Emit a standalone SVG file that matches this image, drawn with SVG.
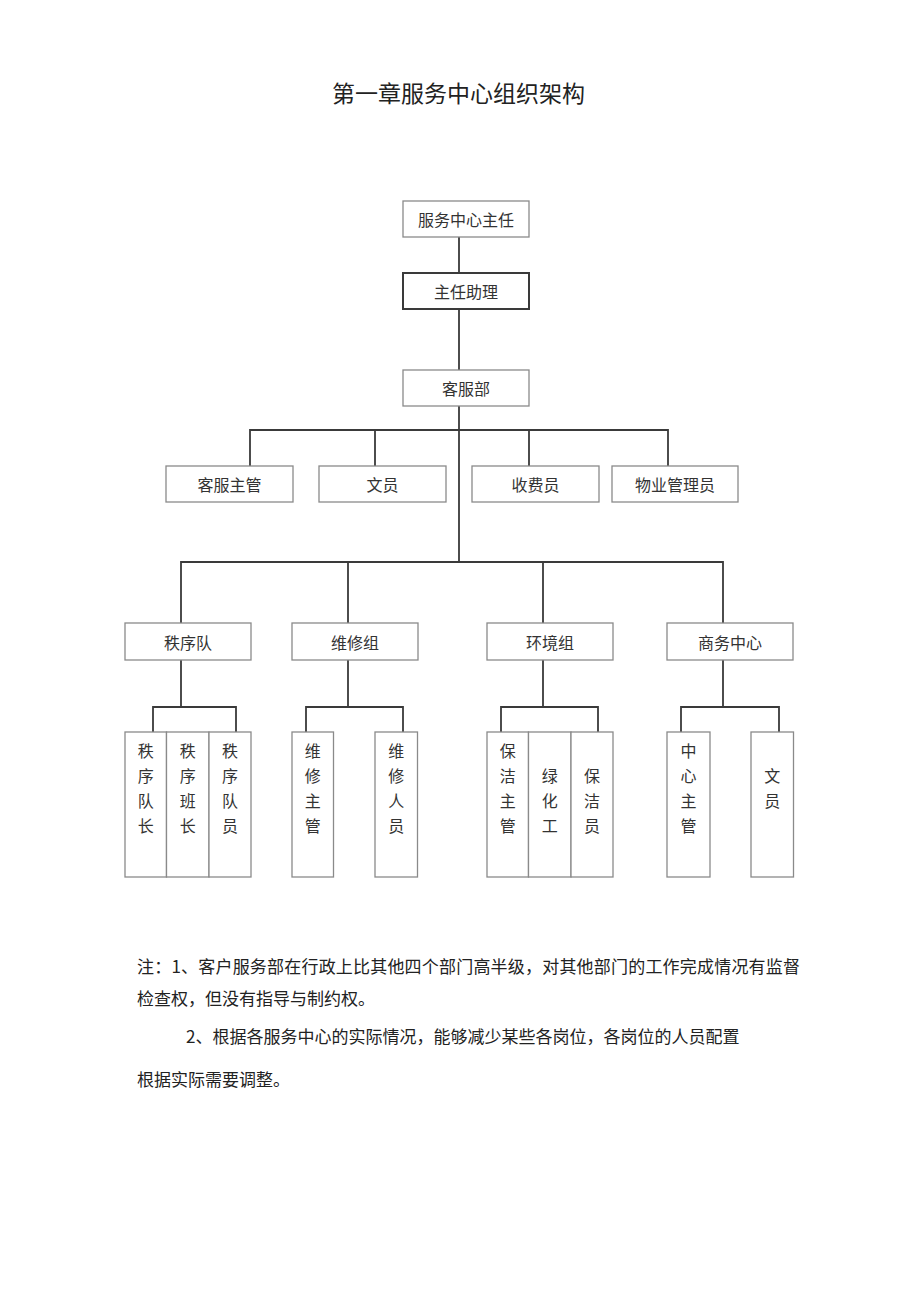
<svg xmlns="http://www.w3.org/2000/svg" width="920" height="1301" viewBox="0 0 920 1301">
<style>
text{font-family:"Noto Sans CJK SC","Liberation Sans",sans-serif;fill:#333;}
.t{font-size:16px;text-anchor:middle;dominant-baseline:central;}
.box{fill:#fff;stroke:#8a8a8a;stroke-width:1.3;}
.boxd{fill:#fff;stroke:#3a3a3a;stroke-width:2;}
.ln{stroke:#3a3a3a;stroke-width:1.8;fill:none;}
.note{font-size:17px;fill:#222;}
.title{font-size:23px;fill:#222;text-anchor:middle;dominant-baseline:central;}
</style>
<rect width="920" height="1301" fill="#fff"/>
<text class="title" x="458.5" y="92">第一章服务中心组织架构</text>

<g id="connectors">
<path class="ln" d="M459 237V273M459 309V370M459 406V562"/>
<path class="ln" d="M250 466V430H668V466M375 430V466M529 430V466"/>
<path class="ln" d="M181 623V562H723V623M348 562V623M543 562V623"/>
<path class="ln" d="M181 660V707M153 732V707H236V732"/>
<path class="ln" d="M348 660V707M306 732V707H403V732"/>
<path class="ln" d="M543 660V707M501 732V707H598V732"/>
<path class="ln" d="M723 660V707M681 732V707H779V732"/>
</g>

<g id="n-director"><rect class="box" x="403" y="201" width="126" height="36"/><text class="t" x="466" y="219">服务中心主任</text></g>
<g id="n-assistant"><rect class="boxd" x="403" y="273" width="126" height="36"/><text class="t" x="466" y="291">主任助理</text></g>
<g id="n-cs"><rect class="box" x="403" y="370" width="126" height="36"/><text class="t" x="466" y="388">客服部</text></g>

<g id="n-cs-super"><rect class="box" x="166" y="466" width="127" height="36"/><text class="t" x="229.5" y="484">客服主管</text></g>
<g id="n-clerk"><rect class="box" x="319" y="466" width="127" height="36"/><text class="t" x="382.5" y="484">文员</text></g>
<g id="n-cashier"><rect class="box" x="472" y="466" width="127" height="36"/><text class="t" x="535.5" y="484">收费员</text></g>
<g id="n-property"><rect class="box" x="612" y="466" width="126" height="36"/><text class="t" x="675" y="484">物业管理员</text></g>

<g id="n-security"><rect class="box" x="125" y="623" width="126" height="37"/><text class="t" x="188" y="641.5">秩序队</text></g>
<g id="n-maint"><rect class="box" x="292" y="623" width="126" height="37"/><text class="t" x="355" y="641.5">维修组</text></g>
<g id="n-env"><rect class="box" x="487" y="623" width="126" height="37"/><text class="t" x="550" y="641.5">环境组</text></g>
<g id="n-biz"><rect class="box" x="667" y="623" width="126" height="37"/><text class="t" x="730" y="641.5">商务中心</text></g>

<g id="n-sec-captain"><rect class="box" x="125" y="732" width="41.5" height="145"/>
<text class="t" x="145.7" y="750">秩</text><text class="t" x="145.7" y="775">序</text><text class="t" x="145.7" y="800">队</text><text class="t" x="145.7" y="825">长</text></g>
<g id="n-sec-leader"><rect class="box" x="166.5" y="732" width="42.5" height="145"/>
<text class="t" x="187.7" y="750">秩</text><text class="t" x="187.7" y="775">序</text><text class="t" x="187.7" y="800">班</text><text class="t" x="187.7" y="825">长</text></g>
<g id="n-sec-member"><rect class="box" x="209" y="732" width="42" height="145"/>
<text class="t" x="230" y="750">秩</text><text class="t" x="230" y="775">序</text><text class="t" x="230" y="800">队</text><text class="t" x="230" y="825">员</text></g>

<g id="n-maint-super"><rect class="box" x="292" y="732" width="41.5" height="145"/>
<text class="t" x="312.7" y="750">维</text><text class="t" x="312.7" y="775">修</text><text class="t" x="312.7" y="800">主</text><text class="t" x="312.7" y="825">管</text></g>
<g id="n-maint-staff"><rect class="box" x="375" y="732" width="42.5" height="145"/>
<text class="t" x="396.2" y="750">维</text><text class="t" x="396.2" y="775">修</text><text class="t" x="396.2" y="800">人</text><text class="t" x="396.2" y="825">员</text></g>

<g id="n-clean-super"><rect class="box" x="487" y="732" width="41.5" height="145"/>
<text class="t" x="507.7" y="750">保</text><text class="t" x="507.7" y="775">洁</text><text class="t" x="507.7" y="800">主</text><text class="t" x="507.7" y="825">管</text></g>
<g id="n-green"><rect class="box" x="528.5" y="732" width="42.5" height="145"/>
<text class="t" x="549.7" y="775">绿</text><text class="t" x="549.7" y="800">化</text><text class="t" x="549.7" y="825">工</text></g>
<g id="n-cleaner"><rect class="box" x="571" y="732" width="42" height="145"/>
<text class="t" x="592" y="775">保</text><text class="t" x="592" y="800">洁</text><text class="t" x="592" y="825">员</text></g>

<g id="n-biz-super"><rect class="box" x="667" y="732" width="43" height="145"/>
<text class="t" x="688.5" y="750">中</text><text class="t" x="688.5" y="775">心</text><text class="t" x="688.5" y="800">主</text><text class="t" x="688.5" y="825">管</text></g>
<g id="n-biz-clerk"><rect class="box" x="751" y="732" width="42.5" height="145"/>
<text class="t" x="772.2" y="775">文</text><text class="t" x="772.2" y="800">员</text></g>

<g id="notes">
<text class="note" x="137" y="973" textLength="663" lengthAdjust="spacing">注：1、客户服务部在行政上比其他四个部门高半级，对其他部门的工作完成情况有监督</text>
<text class="note" x="137" y="1005">检查权，但没有指导与制约权。</text>
<text class="note" x="186" y="1043">2、根据各服务中心的实际情况，能够减少某些各岗位，各岗位的人员配置</text>
<text class="note" x="137" y="1086">根据实际需要调整。</text>
</g>
</svg>
